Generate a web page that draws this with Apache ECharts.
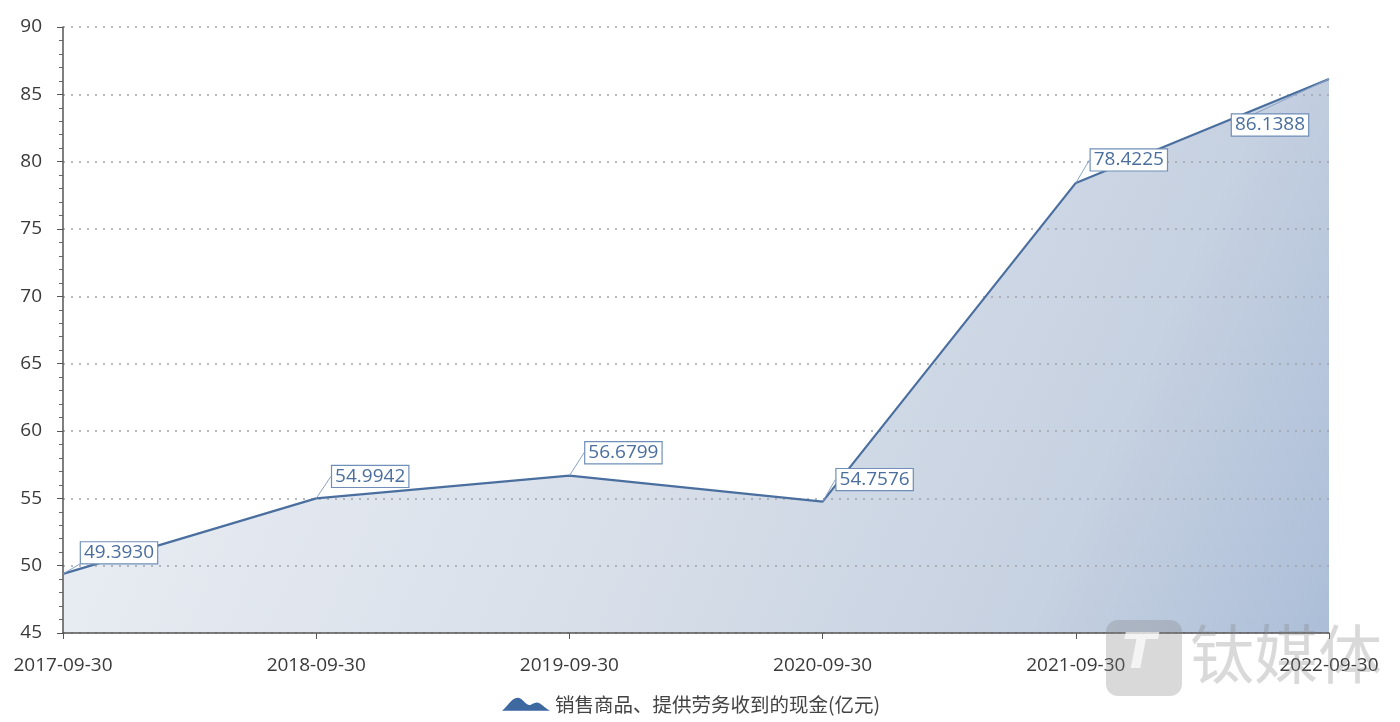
<!DOCTYPE html>
<html><head><meta charset="utf-8">
<script src="https://cdn.jsdelivr.net/npm/echarts@6/dist/echarts.min.js"></script>
<style>html,body{margin:0;padding:0;background:#fff}#c{width:1400px;height:722px}</style>
</head><body><div id="c"></div>
<script>
const categories = ['2017-09-30','2018-09-30','2019-09-30','2020-09-30','2021-09-30','2022-09-30'];
const values = [49.3930, 54.9942, 56.6799, 54.7576, 78.4225, 86.1388];
const labelTexts = ['49.3930','54.9942','56.6799','54.7576','78.4225','86.1388'];
const seriesName = '销售商品、提供劳务收到的现金(亿元)';
const labelShift = [[56,-21],[54,-22],[54,-23],[52,-22],[53,-23],[-59,46]];

const chart = echarts.init(document.getElementById('c'));
chart.setOption({
  animation: false,
  backgroundColor: '#fff',
  grid: {left: 63, right: 71, top: 27, bottom: 89},
  legend: {
    bottom: 3, left: 497, itemWidth: 48, itemHeight: 16, itemGap: 15,
    textStyle: {fontSize: 19.5, color: '#444', fontFamily: 'Noto Sans CJK SC'},
    data: [{name: seriesName,
      icon: 'path://M0,14 C4,11 8,3 13,3 C17,3 19,8 22,9 C24,10 26,7 29,7 C32,7 35,11 40,14 Z',
      itemStyle: {color: '#3d68a0', opacity: 1}}]
  },
  xAxis: {
    type: 'category', data: categories, boundaryGap: false, z: 2,
    axisLine: {lineStyle: {color: '#555', width: 1.5}},
    axisTick: {show: true, alignWithLabel: true, length: 6, lineStyle: {color: '#555'}},
    axisLabel: {fontSize: 19, color: '#3a3a3a', margin: 23, fontFamily: 'Open Sans', interval: 0},
    splitLine: {show: false}
  },
  yAxis: {
    type: 'value', min: 45, max: 90, interval: 5, z: 2,
    axisLine: {show: true, lineStyle: {color: '#555', width: 1.5}},
    axisTick: {show: true, length: 6, lineStyle: {color: '#555'}},
    minorTick: {show: true, splitNumber: 5, length: 4, lineStyle: {color: '#666'}},
    axisLabel: {fontSize: 19, color: '#3a3a3a', margin: 21, fontFamily: 'Open Sans'},
    splitLine: {show: true, lineStyle: {color: '#a0a4aa', type: [2, 6], width: 1.5}}
  },
  series: [{
    name: seriesName, type: 'line', data: values, z: 1,
    symbol: 'none', showSymbol: false, silent: true,
    lineStyle: {width: 0, opacity: 0},
    itemStyle: {color: '#3d68a0'},
    areaStyle: {
      opacity: 1,
      color: new echarts.graphic.LinearGradient(0, 0, 1, 1, [
        {offset: 0, color: '#eef1f6'},
        {offset: 0.5, color: '#d8dfe9'},
        {offset: 0.8, color: '#c6d1e1'},
        {offset: 1, color: '#acbed8'}
      ])
    }
  }, {
    name: seriesName, type: 'line', data: values, z: 3,
    symbol: 'circle', symbolSize: 0, showSymbol: true,
    lineStyle: {color: '#4a6f9f', width: 2.2},
    itemStyle: {color: '#3d68a0'},
    label: {
      show: true, position: 'inside',
      formatter: p => labelTexts[p.dataIndex],
      fontSize: 19, color: '#4a6f9f', fontFamily: 'Open Sans',
      backgroundColor: '#fff', borderColor: '#6f8fb8', borderWidth: 1.2,
      padding: [1, 3, 1, 3]
    },
    labelLine: {show: true, lineStyle: {color: '#8aa3c4', width: 1}},
    labelLayout: p => ({dx: labelShift[p.dataIndex][0], dy: labelShift[p.dataIndex][1]})
  }],
  graphic: [
    {type: 'rect', left: 1106, top: 620, shape: {width: 76, height: 76, r: 12}, style: {fill: 'rgba(130,130,130,0.3)'}, z: 10},
    {type: 'text', left: 1122, top: 630, style: {text: 'T', fontSize: 50, fontWeight: 'bold', fontStyle: 'italic', fill: 'rgba(255,255,255,0.7)', fontFamily: 'DejaVu Sans'}, z: 11},
    {type: 'text', left: 1190, top: 622, style: {text: '钛媒体', fontSize: 64, fill: 'rgba(130,130,130,0.3)', fontFamily: 'Noto Sans CJK SC'}, z: 10}
  ]
});
</script></body></html>
